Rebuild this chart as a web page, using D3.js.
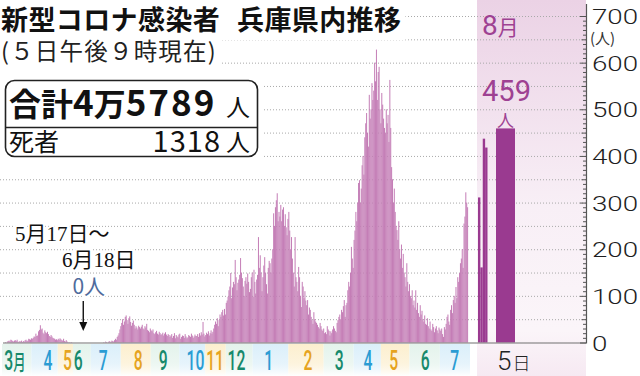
<!DOCTYPE html>
<html>
<head>
<meta charset="utf-8">
<script src="https://cdn.jsdelivr.net/npm/d3@7"></script>
<style>
  html, body { margin: 0; padding: 0; background: #fff; }
  svg { display: block; }
</style>
</head>
<body>
<div id="chart"></div>
<script>
// daily new cases, 2020-03-01 .. 2020-12-31
const cases2020 = [
  // Mar
  1,0,2,3,4,2,6,5,3,2,4,5,3,6,2,1,3,2,4,1,3,2,5,6,3,4,8,7,6,9,8,
  // Apr
  10,13,12,19,14,15,24,27,37,28,30,21,18,26,22,20,23,18,14,12,16,13,10,9,8,6,7,5,8,6,
  // May
  9,7,5,4,8,3,2,5,2,1,0,1,0,1,0,0,0,0,0,0,0,0,0,0,0,0,0,0,0,0,0,
  // Jun
  0,0,0,0,0,0,0,0,0,0,0,0,0,0,0,0,0,0,1,0,2,1,0,1,3,2,1,4,3,2,
  // Jul
  5,8,6,12,15,20,28,35,42,50,38,45,55,58,48,40,52,56,44,36,42,47,38,30,35,32,28,36,33,30,34,
  // Aug
  38,30,28,35,32,40,27,25,22,30,26,24,28,20,18,22,25,19,17,23,20,16,18,21,15,19,22,17,14,18,16,
  // Sep
  12,15,18,10,14,20,9,16,13,11,17,19,8,12,15,14,10,18,13,9,11,16,14,12,19,15,10,13,17,14,
  // Oct
  14,18,12,20,15,22,17,44,19,13,16,21,18,24,15,20,26,19,23,30,38,45,40,52,35,48,60,55,65,70,58,
  // Nov
  72,60,85,90,98,112,120,149,95,118,130,125,177,140,112,128,135,145,181,150,138,120,100,132,140,126,148,130,108,115,
  // Dec
  140,150,98,156,130,105,135,145,226,160,187,150,110,140,165,183,150,125,105,160,175,170,150,180,200,277,250,290,305,320,260
];
// daily new cases, 2021-01-01 .. 2021-07-31
const cases2021 = [
  // Jan
  280,270,295,260,285,290,250,275,247,230,265,280,240,200,226,180,150,120,226,140,130,110,162,140,100,76,130,120,95,110,90,
  // Feb
  80,91,60,75,70,55,48,40,65,50,45,42,38,33,30,42,35,28,25,30,20,22,18,35,28,25,15,24,
  // Mar
  20,28,35,30,25,22,42,48,55,60,50,70,65,78,91,55,80,85,112,130,120,150,205,180,160,220,240,280,260,300,342,
  // Apr
  348,300,330,380,400,360,440,470,492,450,420,531,480,500,556,520,540,600,560,628,520,580,591,500,470,535,510,480,460,450,
  // May
  500,470,488,430,563,460,376,350,300,330,280,250,241,220,260,200,180,210,160,190,150,140,120,170,130,110,125,100,95,112,80,
  // Jun
  90,75,112,70,85,63,55,80,60,68,50,45,58,40,38,52,35,30,45,28,25,40,33,22,30,35,26,20,32,28,
  // Jul
  25,30,18,12,33,28,40,55,60,45,38,70,80,63,91,100,85,119,95,140,130,149,170,180,200,160,255,270,322,300,290
];
// August 2021 so far
const augDays = [1, 2, 3, 4, 5];
const augCases = [311, 161, 437, 418, 459];

// month tick labels, and the day index (from 2020-03-01) each label sits on
const monthLabels = ['3', '4', '5', '6', '7', '8', '9', '10', '11', '12', '1', '2', '3', '4', '5', '6', '7'];
const monthLabelDays = [11, 48, 70, 82, 110, 149, 177, 213, 235, 259, 295, 339, 374, 406, 435, 470, 503];

const yTicks = [0, 100, 200, 300, 400, 500, 600, 700];
const gridValues = [50, 100, 150, 200, 250, 300, 350, 400, 450, 500, 550, 600, 650, 700];

const W = 640, H = 376;
const JP = '"Noto Sans CJK JP", "Noto Sans", sans-serif';
const SERIF = '"Liberation Serif", "DejaVu Serif", "Noto Sans CJK JP", serif';
const NUM = 'Roboto, "Noto Sans", sans-serif';
const barColor = '#c47db6';
const augColor = '#9a3a90';
const purple = '#9e4192';
const labelColors = ['#17896b', '#2b9cd3', '#e6a41f'];
const labelTints = ['#e4f3ec', '#dbeffa', '#fcefcf'];

const days = cases2020.concat(cases2021);

const x = d3.scaleLinear().domain([0, days.length]).range([5, 468]);
const y = d3.scaleLinear().domain([0, 700]).range([342.5, 16]);
const augX = d3.scaleBand().domain(augDays.slice(0, 4)).range([478, 487.5]);
const augHi = d3.scaleBand().domain(augDays.slice(4)).range([496, 515]);
const axisX = 586;

const svg = d3.select('#chart').append('svg')
  .attr('width', W)
  .attr('height', H)
  .attr('viewBox', `0 0 ${W} ${H}`);

const defs = svg.append('defs');
const panelGrad = defs.append('linearGradient').attr('id', 'panel')
  .attr('x1', 0).attr('y1', 0).attr('x2', 0).attr('y2', 1);
panelGrad.append('stop').attr('offset', '0%').attr('stop-color', '#ebd2e5');
panelGrad.append('stop').attr('offset', '55%').attr('stop-color', '#f8eff6');
panelGrad.append('stop').attr('offset', '88%').attr('stop-color', '#fbf5f9');
panelGrad.append('stop').attr('offset', '100%').attr('stop-color', '#f6e9f2');

labelTints.forEach((c, i) => {
  const g = defs.append('linearGradient').attr('id', 'tint' + i)
    .attr('x1', 0).attr('y1', 0).attr('x2', 0).attr('y2', 1);
  g.append('stop').attr('offset', '0%').attr('stop-color', c);
  g.append('stop').attr('offset', '60%').attr('stop-color', c).attr('stop-opacity', 0.7);
  g.append('stop').attr('offset', '100%').attr('stop-color', '#fff');
});

const gBack = svg.append('g');
const gGrid = svg.append('g');
const gMask = svg.append('g');
const gBars = svg.append('g');
const gAxis = svg.append('g');
const gText = svg.append('g');

// August panel
gBack.append('rect')
  .attr('x', 477).attr('y', 0)
  .attr('width', axisX - 477).attr('height', H)
  .attr('fill', 'url(#panel)');

// month label background strips
const labelX = monthLabelDays.map(d => x(d));
const stripL = i => i === 0 ? 2 : (labelX[i - 1] + labelX[i]) / 2;
const stripR = i => i === monthLabels.length - 1 ? 470 : (labelX[i] + labelX[i + 1]) / 2;
gBack.selectAll('.mbg')
  .data(monthLabels)
  .join('rect')
  .attr('class', 'mbg')
  .attr('x', (d, i) => stripL(i))
  .attr('width', (d, i) => stripR(i) - stripL(i))
  .attr('y', 344).attr('height', H - 344)
  .attr('fill', (d, i) => `url(#tint${i % 3})`);

// dotted grid
gGrid.selectAll('line')
  .data(gridValues)
  .join('line')
  .attr('x1', 0).attr('x2', axisX)
  .attr('y1', d => y(d) + 0.5).attr('y2', d => y(d) + 0.5)
  .attr('stroke', '#a9a9a9')
  .attr('stroke-width', 1)
  .attr('stroke-dasharray', '1 2');

// daily bars
gBars.selectAll('.bar')
  .data(days)
  .join('rect')
  .attr('class', 'bar')
  .attr('x', (d, i) => x(i))
  .attr('width', x(1) - x(0) + 0.1)
  .attr('y', d => y(d))
  .attr('height', d => y(0) - y(d))
  .attr('fill', barColor);

// August bars
gBars.selectAll('.aug')
  .data(augCases.slice(0, 4))
  .join('rect')
  .attr('class', 'aug')
  .attr('x', (d, i) => augX(augDays[i]))
  .attr('width', augX.bandwidth())
  .attr('y', d => y(d))
  .attr('height', d => y(0) - y(d))
  .attr('fill', augColor);

gBars.selectAll('.hi')
  .data(augCases.slice(4))
  .join('rect')
  .attr('class', 'hi')
  .attr('x', augHi(augDays[4]))
  .attr('width', augHi.bandwidth())
  .attr('y', d => y(d))
  .attr('height', d => y(0) - y(d))
  .attr('fill', augColor);

// baseline
gAxis.append('line')
  .attr('x1', 3).attr('x2', axisX)
  .attr('y1', y(0) + 0.5).attr('y2', y(0) + 0.5)
  .attr('stroke', '#707070').attr('stroke-width', 1.2);

// y axis: ticks pointing inward
const tickAxis = d3.axisLeft(y)
  .tickValues(d3.range(0, 701, 10))
  .tickFormat('')
  .tickSizeOuter(0);
const gT = gAxis.append('g').attr('transform', `translate(${axisX},0)`).call(tickAxis);
gT.select('.domain').remove();
gT.selectAll('.tick line')
  .attr('x2', d => d % 100 === 0 ? -6 : d % 50 === 0 ? -4.5 : -3)
  .attr('stroke', '#555');
gAxis.append('line')
  .attr('x1', axisX + 0.5).attr('x2', axisX + 0.5)
  .attr('y1', 4).attr('y2', y(0) + 1)
  .attr('stroke', '#555').attr('stroke-width', 1.2);

const labAxis = d3.axisRight(y).tickValues(yTicks).tickSize(0).tickPadding(0);
const gL = gAxis.append('g').attr('transform', `translate(${axisX + 6},0)`).call(labAxis);
gL.select('.domain').remove();
gL.attr('font-family', NUM).attr('font-size', 21);
gL.selectAll('.tick text')
  .attr('x', 0)
  .attr('dy', '0.36em')
  .attr('transform', 'scale(1.32,1)')
  .attr('font-weight', 300)
  .attr('fill', '#1e1e1e');

gAxis.append('text')
  .attr('x', 590).attr('y', 44)
  .attr('font-family', JP).attr('font-size', 15)
  .attr('fill', '#333')
  .text('(人)');

// month labels
gText.selectAll('.mlab')
  .data(monthLabels)
  .join('text')
  .attr('class', 'mlab')
  .attr('transform', (d, i) => `translate(${labelX[i]},369.5) scale(0.56,1)`)
  .attr('text-anchor', 'middle')
  .attr('font-family', NUM)
  .attr('font-weight', 500)
  .attr('font-size', 28)
  .attr('fill', (d, i) => labelColors[i % 3])
  .each(function(d, i) {
    const t = d3.select(this);
    t.append('tspan').text(d);
    if (i === 0) t.append('tspan').attr('font-family', JP).attr('font-size', 22).text('月');
  });

// "5日" under today's bar
const dayLab = gText.append('text')
  .attr('x', augHi(augDays[4]) + 1).attr('y', 370)
  .attr('fill', '#222');
dayLab.append('tspan').attr('font-family', NUM).attr('font-weight', 300).attr('font-size', 26).text(augDays[4]);
dayLab.append('tspan').attr('font-family', JP).attr('font-weight', 300).attr('font-size', 18).attr('dx', 1).text('日');

// August header and today's value
const augHead = gText.append('text')
  .attr('x', 482).attr('y', 35)
  .attr('fill', purple);
augHead.append('tspan').attr('font-family', NUM).attr('font-size', 28).text('8');
augHead.append('tspan').attr('font-family', JP).attr('font-size', 21).text('月');

const hiCx = augHi(augDays[4]) + augHi.bandwidth() / 2;
gText.append('text')
  .attr('x', hiCx + 1).attr('y', 101)
  .attr('text-anchor', 'middle')
  .attr('font-family', NUM).attr('font-size', 29)
  .attr('fill', purple)
  .text(augCases[4]);
gText.append('text')
  .attr('x', hiCx).attr('y', 127)
  .attr('text-anchor', 'middle')
  .attr('font-family', JP).attr('font-size', 17)
  .attr('fill', purple)
  .text('人');

// title block
const title = gText.append('text')
  .attr('y', 30)
  .attr('font-family', JP).attr('font-weight', 700).attr('font-size', 27)
  .attr('fill', '#111');
title.append('tspan').attr('x', 1).attr('letter-spacing', 0.4).text('新型コロナ感染者');
title.append('tspan').attr('x', 237).attr('letter-spacing', 0.4).text('兵庫県内推移');

const sub = gText.append('text')
  .attr('x', 1).attr('y', 60)
  .attr('font-family', JP).attr('font-weight', 400).attr('font-size', 23.5)
  .attr('letter-spacing', 1.2)
  .attr('fill', '#222')
  .text('(５日午後９時現在)');

// totals box
const box = gText.append('g');
box.append('rect')
  .attr('x', 5.5).attr('y', 80.5)
  .attr('width', 252).attr('height', 76)
  .attr('rx', 9)
  .attr('fill', '#fff')
  .attr('stroke', '#222').attr('stroke-width', 1.6);
box.append('line')
  .attr('x1', 5.5).attr('x2', 257.5)
  .attr('y1', 127.5).attr('y2', 127.5)
  .attr('stroke', '#222').attr('stroke-width', 1.4);

const row1 = box.append('text')
  .attr('x', 9).attr('y', 115.5)
  .attr('font-family', JP).attr('font-weight', 700)
  .attr('fill', '#111');
row1.append('tspan').attr('font-size', 32).text('合計');
row1.append('tspan').attr('font-size', 35).text('4');
row1.append('tspan').attr('font-size', 32).text('万');
row1.append('tspan').attr('font-size', 35).attr('letter-spacing', 2).text('5789');
box.append('text')
  .attr('x', 226).attr('y', 116)
  .attr('font-family', JP).attr('font-size', 24)
  .attr('fill', '#111')
  .text('人');

box.append('text')
  .attr('x', 9).attr('y', 151)
  .attr('font-family', JP).attr('font-size', 25)
  .attr('fill', '#111')
  .text('死者');
box.append('text')
  .attr('x', 221).attr('y', 152)
  .attr('text-anchor', 'end')
  .attr('font-family', JP).attr('font-size', 29)
  .attr('letter-spacing', 1)
  .attr('fill', '#111')
  .text('1318');
box.append('text')
  .attr('x', 226).attr('y', 151)
  .attr('font-family', JP).attr('font-size', 24)
  .attr('fill', '#111')
  .text('人');

// white masks behind the title block so the grid stops there
[title, sub].forEach(t => {
  const b = t.node().getBBox();
  gMask.append('rect')
    .attr('x', 0).attr('y', b.y - 2)
    .attr('width', b.x + b.width + 4).attr('height', b.height + 4)
    .attr('fill', '#fff');
});
gMask.append('rect')
  .attr('x', 0).attr('y', 76).attr('width', 264).attr('height', 86)
  .attr('fill', '#fff');

// annotation for the zero-case stretch
const zeroDay = 87;
const ann = gText.append('g')
  .attr('paint-order', 'stroke')
  .attr('stroke', '#fff').attr('stroke-width', 4).attr('stroke-linejoin', 'round');
ann.append('text')
  .attr('x', 15).attr('y', 241)
  .attr('font-family', SERIF).attr('font-size', 21)
  .attr('fill', '#111')
  .text('5月17日～');
ann.append('text')
  .attr('x', 62).attr('y', 267)
  .attr('font-family', SERIF).attr('font-size', 21)
  .attr('fill', '#111')
  .text('6月18日');
ann.append('text')
  .attr('x', x(zeroDay) + 6).attr('y', 294)
  .attr('text-anchor', 'middle')
  .attr('font-family', JP).attr('font-size', 21)
  .attr('fill', '#4f6b9c')
  .text('0人');

const ax = x(zeroDay) + 0.5;
gText.append('line')
  .attr('x1', ax).attr('x2', ax)
  .attr('y1', 301).attr('y2', 323)
  .attr('stroke', '#111').attr('stroke-width', 1.4);
gText.append('path')
  .attr('d', `M${ax - 4},${322} L${ax + 4},${322} L${ax},${331} Z`)
  .attr('fill', '#111');
</script>
</body>
</html>
